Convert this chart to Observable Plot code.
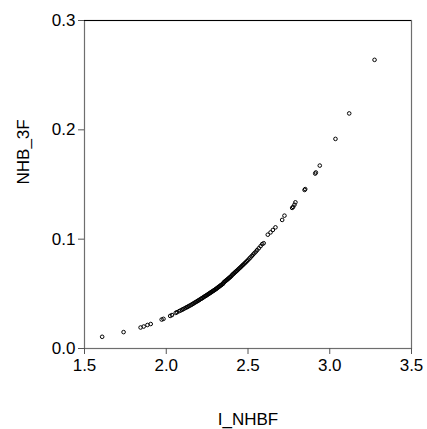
<!DOCTYPE html>
<html>
<head>
<meta charset="utf-8">
<script src="https://cdn.jsdelivr.net/npm/d3@7"></script>
<script src="https://cdn.jsdelivr.net/npm/@observablehq/plot@0.6"></script>
<style>
  html, body { margin: 0; padding: 0; background: #fff; }
</style>
</head>
<body>
<div id="chart"></div>
<script>
const xLabel = "I_NHBF";
const yLabel = "NHB_3F";
const xTicks = [1.5, 2.0, 2.5, 3.0, 3.5];
const yTicks = [0.0, 0.1, 0.2, 0.3];

const xValues = [
  1.608, 1.739, 1.843, 1.862, 1.885, 1.905, 1.972, 1.983, 2.024, 2.035, 2.058,
  2.066, 2.079, 2.088, 2.097, 2.104, 2.112, 2.121, 2.128, 2.134, 2.141, 2.149,
  2.156, 2.162, 2.168, 2.175, 2.181, 2.188, 2.193, 2.199, 2.204, 2.211, 2.216,
  2.222, 2.227, 2.233, 2.238, 2.243, 2.247, 2.252, 2.257, 2.261, 2.266, 2.270,
  2.274, 2.279, 2.283, 2.288, 2.292, 2.296, 2.301, 2.305, 2.309, 2.313, 2.318,
  2.322, 2.326, 2.331, 2.335, 2.339, 2.344, 2.348, 2.352, 2.357, 2.361, 2.366,
  2.370, 2.375, 2.379, 2.384, 2.389, 2.393, 2.398, 2.403, 2.408, 2.413, 2.418,
  2.423, 2.428, 2.433, 2.439, 2.444, 2.450, 2.456, 2.462, 2.468, 2.474, 2.481,
  2.487, 2.494, 2.501, 2.508, 2.515, 2.523, 2.531, 2.539, 2.548, 2.556, 2.566,
  2.577, 2.587, 2.596, 2.621, 2.638, 2.652, 2.668, 2.709, 2.723, 2.770, 2.776,
  2.784, 2.790, 2.846, 2.850, 2.911, 2.915, 2.939, 3.035, 3.119, 3.274
];
const yValues = [
  0.0107, 0.0150, 0.0192, 0.0201, 0.0215, 0.0224, 0.0265, 0.0271, 0.0298, 0.0306, 0.0326,
  0.0332, 0.0342, 0.0348, 0.0355, 0.0360, 0.0367, 0.0374, 0.0379, 0.0384, 0.0390, 0.0396,
  0.0402, 0.0408, 0.0413, 0.0420, 0.0425, 0.0431, 0.0436, 0.0441, 0.0446, 0.0453, 0.0457,
  0.0463, 0.0468, 0.0474, 0.0479, 0.0483, 0.0487, 0.0492, 0.0497, 0.0501, 0.0506, 0.0510,
  0.0514, 0.0519, 0.0523, 0.0528, 0.0532, 0.0536, 0.0541, 0.0545, 0.0550, 0.0555, 0.0560,
  0.0565, 0.0569, 0.0575, 0.0579, 0.0584, 0.0589, 0.0594, 0.0605, 0.0611, 0.0616, 0.0622,
  0.0627, 0.0633, 0.0638, 0.0645, 0.0651, 0.0656, 0.0663, 0.0673, 0.0679, 0.0686, 0.0693,
  0.0700, 0.0707, 0.0713, 0.0721, 0.0729, 0.0737, 0.0745, 0.0754, 0.0763, 0.0771, 0.0781,
  0.0790, 0.0800, 0.0811, 0.0822, 0.0833, 0.0846, 0.0859, 0.0872, 0.0886, 0.0900, 0.0917,
  0.0936, 0.0955, 0.0963, 0.1041, 0.1062, 0.1084, 0.1108, 0.1176, 0.1215, 0.1286, 0.1295,
  0.1315, 0.1337, 0.1450, 0.1458, 0.1600, 0.1610, 0.1673, 0.1917, 0.2150, 0.2640
];

const data = xValues.map((x, i) => ({x, y: yValues[i]}));
const fmt = d3.format(".1f");

const chart = Plot.plot({
  width: 427,
  height: 429,
  marginLeft: 84,
  marginRight: 16,
  marginTop: 20,
  marginBottom: 81,
  style: {
    fontFamily: "'Liberation Sans', Arial, sans-serif",
    fontSize: "17px",
    color: "#000",
    background: "#fff"
  },
  x: {domain: [1.5, 3.5]},
  y: {domain: [0, 0.3]},
  marks: [
    Plot.frame({stroke: "#6e6e6e", strokeWidth: 1.2}),
    Plot.ruleY([0.3], {stroke: "#000", strokeWidth: 1.2}),
    Plot.axisX(xTicks, {
      tickSize: 6, tickPadding: 4, tickFormat: fmt, label: null,
      stroke: "#555", fill: "#000", fontSize: 17
    }),
    Plot.axisY(yTicks, {
      tickSize: 6, tickPadding: 3, tickFormat: fmt, label: null,
      stroke: "#555", fill: "#000", fontSize: 17
    }),
    Plot.text([xLabel], {
      frameAnchor: "bottom", dy: 71, lineAnchor: "middle",
      text: d => d, fontSize: 17, fill: "#000"
    }),
    Plot.text([yLabel], {
      frameAnchor: "left", dx: -61, rotate: -90, lineAnchor: "middle",
      text: d => d, fontSize: 17, fill: "#000"
    }),
    Plot.dot(data, {
      x: "x", y: "y", r: 1.8, stroke: "#000", strokeWidth: 1, fill: "none"
    })
  ]
});

document.getElementById("chart").appendChild(chart);
</script>
</body>
</html>
